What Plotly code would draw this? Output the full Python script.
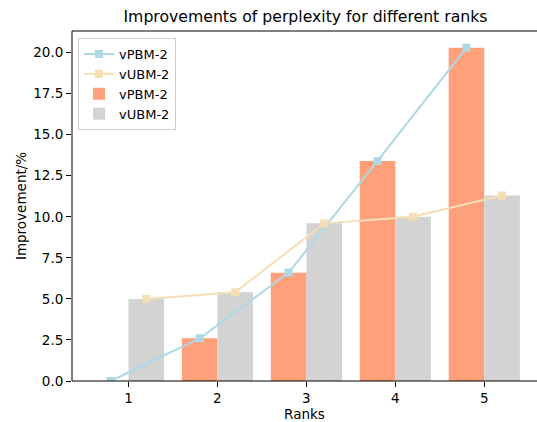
import plotly.graph_objects as go

ranks = [1, 2, 3, 4, 5]
vpbm = [0.0, 2.6, 6.6, 13.4, 20.3]
vubm = [5.0, 5.4, 9.6, 10.0, 11.3]
series_names = ["vPBM-2", "vUBM-2"]

c_line_p = "#ADD8E6"
c_line_u = "#F5DEB3"
c_bar_p = "#FFA07A"
c_bar_u = "#D3D3D3"
w = 0.4

xp = [r - w / 2 for r in ranks]
xu = [r + w / 2 for r in ranks]

fig = go.Figure()
fig.add_trace(go.Scatter(x=xp, y=vpbm, mode="lines+markers", name=series_names[0],
                         line=dict(color=c_line_p, width=2),
                         marker=dict(symbol="square", size=8, color=c_line_p)))
fig.add_trace(go.Scatter(x=xu, y=vubm, mode="lines+markers", name=series_names[1],
                         line=dict(color=c_line_u, width=2),
                         marker=dict(symbol="square", size=8, color=c_line_u)))
fig.add_trace(go.Bar(x=xp, y=vpbm, width=w, name=series_names[0],
                     marker=dict(color=c_bar_p, line=dict(width=0))))
fig.add_trace(go.Bar(x=xu, y=vubm, width=w, name=series_names[1],
                     marker=dict(color=c_bar_u, line=dict(width=0))))

# axis frame (bottom, top, left spines)
spine = dict(type="line", xref="paper", yref="paper", layer="above",
             line=dict(color="black", width=1))
fig.add_shape(x0=0, x1=1.05, y0=0, y1=0, **spine)
fig.add_shape(x0=0, x1=1.05, y0=1, y1=1, **spine)
fig.add_shape(x0=0, x1=0, y0=0, y1=1, **spine)

font = "DejaVu Sans, sans-serif"
fs = 13.5
fig.update_layout(
    width=537, height=422,
    margin=dict(l=72, r=0, t=31, b=41),
    paper_bgcolor="white", plot_bgcolor="white",
    font=dict(family=font, size=fs, color="black"),
    title=dict(text="Improvements of perplexity for different ranks",
               x=0.5689, xanchor="center",
               y=1 - 17 / 422, yanchor="middle",
               font=dict(size=15.7, color="black")),
    barmode="overlay",
    showlegend=True,
    legend=dict(x=0.013, y=0.98, xanchor="left", yanchor="top",
                bgcolor="rgba(255,255,255,0.8)", bordercolor="#cccccc", borderwidth=1,
                font=dict(size=13, color="black"), tracegroupgap=0),
    xaxis=dict(range=[0.365, 5.593], tickmode="array", tickvals=ranks,
               ticktext=[str(r) for r in ranks], automargin=False,
               showgrid=False, zeroline=False, showline=False,
               ticks="outside", ticklen=5, tickcolor="black",
               tickfont=dict(size=fs, color="black"),
               title=dict(text="Ranks", standoff=2, font=dict(size=fs))),
    yaxis=dict(range=[0, 21.315], dtick=2.5, tick0=0, tickformat=".1f",
               showgrid=False, zeroline=False, automargin=False, showline=False,
               ticks="outside", ticklen=5, tickcolor="black",
               tickfont=dict(size=fs, color="black"),
               title=dict(text="Improvement/%", standoff=3, font=dict(size=fs))),
)

fig.write_html("out.html", config={"displayModeBar": False},
               post_script="document.body.style.margin='0';document.documentElement.style.overflow='hidden';")
